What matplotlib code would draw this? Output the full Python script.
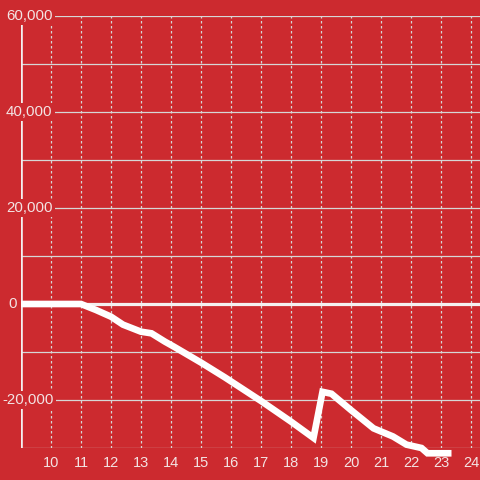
import numpy as np
import matplotlib.pyplot as plt

# valores
horas = [9, 11, 11.5, 12, 12.4, 13, 13.35, 13.8, 14.1, 15, 15.8, 17, 18, 18.75,
         19.05, 19.35, 20, 20.75, 21.4, 21.85, 22.35, 22.55, 23.35]
valores = [0, 0, -1250, -2640, -4300, -5770, -6110, -7850, -8900, -12200, -15300,
           -20200, -24500, -27900, -18300, -18700, -22100, -25900, -27600, -29300,
           -30000, -31100, -31100]

y_ticks = [-20000, 0, 20000, 40000, 60000]
y_labels = ['-20,000', '0', '20,000', '40,000', '60,000']
x_ticks = list(range(10, 25))

fondo = '#CC2A2F'
texto = '#F3E3E3'
grilla = '#D6D6D6'

fig = plt.figure(figsize=(4.8, 4.8), dpi=100, facecolor=fondo)
ax = fig.add_axes([21/480, 1-448/480, 1-21/480, (448-16)/480])
ax.set_facecolor(fondo)
ax.set_xlim(9, 24.3)
ax.set_ylim(-30000, 60000)

for s in ax.spines.values():
    s.set_visible(False)

# grilla horizontal cada 10000
for yv in np.arange(-30000, 60001, 10000):
    ax.axhline(yv, color=grilla, lw=0.9, zorder=1)
# grilla vertical punteada
for xv in x_ticks:
    ax.axvline(xv, color=grilla, lw=0.9, ls=(0, (2, 2)), zorder=1)

# eje izquierdo y linea del cero
ax.axvline(9, color='#F4F0F0', lw=2.6, zorder=3)
ax.axhline(0, color='#F4F0F0', lw=2.3, xmin=-0.01, zorder=3)

ax.plot(horas, valores, color='white', lw=4.8, solid_capstyle='butt',
        solid_joinstyle='miter', clip_on=False, zorder=4)

ax.set_yticks([])
ax.set_xticks(x_ticks)
ax.set_xticklabels([str(v) for v in x_ticks], color=texto, fontsize=10.5,
                   family='Liberation Sans')
ax.tick_params(axis='x', length=0, pad=6)

for yv, lab in zip(y_ticks, y_labels):
    xoff = 2.5 if lab.startswith('-') else (8 if lab == '0' else 6)
    ax.annotate(lab, xy=(0, yv), xycoords=('figure pixels', 'data'),
                xytext=(xoff, 0), textcoords='offset pixels',
                ha='left', va='center', color=texto, fontsize=10.8,
                family='Liberation Sans', zorder=5, annotation_clip=False,
                bbox=dict(boxstyle='square,pad=0.15', fc=fondo, ec='none'))

fig.savefig('out.png', dpi=100, facecolor=fondo)
